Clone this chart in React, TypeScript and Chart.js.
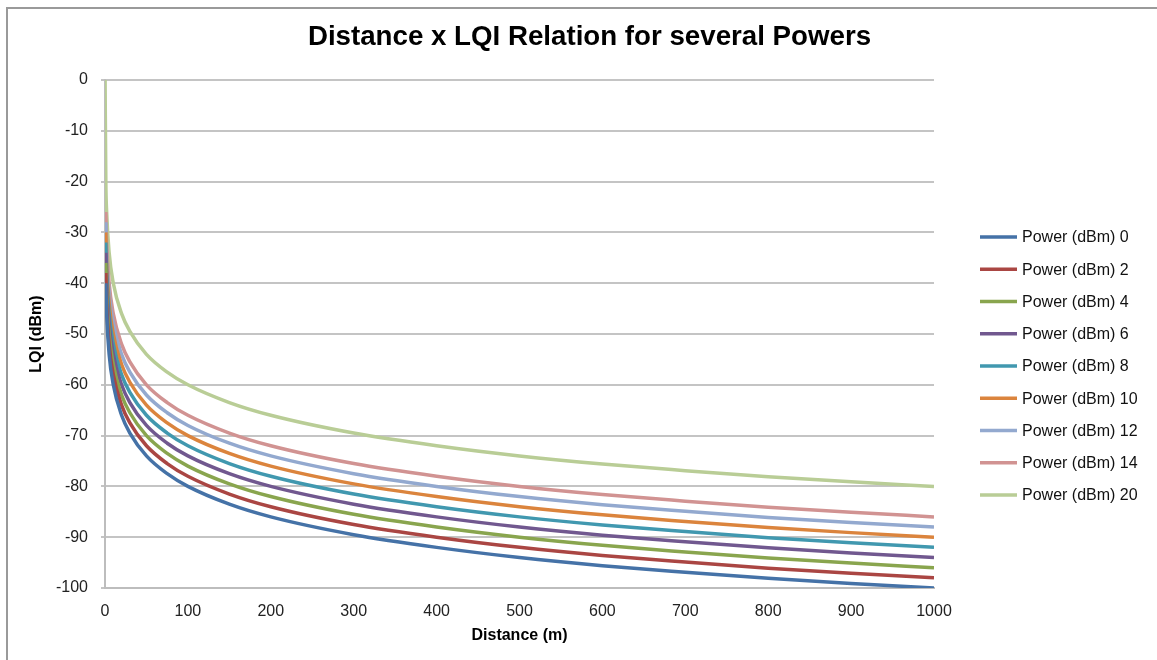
import React, { useEffect, useRef } from "react";
import { Chart, registerables } from "chart.js";

Chart.register(...registerables);

const TITLE = "Distance x LQI Relation for several Powers";
const X_TITLE = "Distance (m)";
const Y_TITLE = "LQI (dBm)";

// distances (m) at which the curves were read
const DISTANCES = [1, 2, 5, 10, 20, 30, 50, 75, 100, 150, 200, 300, 400, 500, 600, 700, 800, 900, 1000];
const DISTANCES_P20 = [0.1, 1, 2, 5, 10, 20, 30, 50, 75, 100, 150, 200, 300, 400, 500, 600, 700, 800, 900, 1000];

const SERIES_LABELS = [
  "Power (dBm) 0",
  "Power (dBm) 2",
  "Power (dBm) 4",
  "Power (dBm) 6",
  "Power (dBm) 8",
  "Power (dBm) 10",
  "Power (dBm) 12",
  "Power (dBm) 14",
  "Power (dBm) 20",
];

const P0 = [-40, -46, -54, -60, -66, -69.5, -74, -77.5, -80, -83.5, -86, -89.5, -92, -94, -95.6, -96.9, -98.1, -99.1, -100];
const P2 = [-38, -44, -52, -58, -64, -67.5, -72, -75.5, -78, -81.5, -84, -87.5, -90, -92, -93.6, -94.9, -96.1, -97.1, -98];
const P4 = [-36, -42, -50, -56, -62, -65.5, -70, -73.5, -76, -79.5, -82, -85.5, -88, -90, -91.6, -92.9, -94.1, -95.1, -96];
const P6 = [-34, -40, -48, -54, -60, -63.5, -68, -71.5, -74, -77.5, -80, -83.5, -86, -88, -89.6, -90.9, -92.1, -93.1, -94];
const P8 = [-32, -38, -46, -52, -58, -61.5, -66, -69.5, -72, -75.5, -78, -81.5, -84, -86, -87.6, -88.9, -90.1, -91.1, -92];
const P10 = [-30, -36, -44, -50, -56, -59.5, -64, -67.5, -70, -73.5, -76, -79.5, -82, -84, -85.6, -86.9, -88.1, -89.1, -90];
const P12 = [-28, -34, -42, -48, -54, -57.5, -62, -65.5, -68, -71.5, -74, -77.5, -80, -82, -83.6, -84.9, -86.1, -87.1, -88];
const P14 = [-26, -32, -40, -46, -52, -55.5, -60, -63.5, -66, -69.5, -72, -75.5, -78, -80, -81.6, -82.9, -84.1, -85.1, -86];
const P20 = [0, -20, -26, -34, -40, -46, -49.5, -54, -57.5, -60, -63.5, -66, -69.5, -72, -74, -75.6, -76.9, -78.1, -79.1, -80];

const COLORS = ["#4572A7", "#AA4643", "#89A54E", "#71588F", "#4198AF", "#DB843D", "#93A9CF", "#D19392", "#B9CD96"];

const X_MIN = 0;
const X_MAX = 1000;
const X_STEP = 100;
const Y_MIN = -100;
const Y_MAX = 0;
const Y_STEP = 10;

const FONT = '"Liberation Sans", Arial, sans-serif';

const decorPlugin = {
  id: "decor",
  afterDraw(chart: any) {
    const ctx = chart.ctx as CanvasRenderingContext2D;
    ctx.save();
    ctx.fillStyle = "#000";
    ctx.font = `bold 27.7px ${FONT}`;
    ctx.textAlign = "center";
    ctx.textBaseline = "middle";
    ctx.fillText(TITLE, 589.5, 37);
    chart.data.datasets.forEach((ds: any, i: number) => {
      const y = 237 + i * 32.25;
      ctx.strokeStyle = ds.borderColor;
      ctx.lineWidth = 3.5;
      ctx.lineCap = "butt";
      ctx.beginPath();
      ctx.moveTo(980, y);
      ctx.lineTo(1017, y);
      ctx.stroke();
      ctx.fillStyle = "#111";
      ctx.font = `16px ${FONT}`;
      ctx.textAlign = "left";
      ctx.textBaseline = "middle";
      ctx.fillText(ds.label, 1022, y + 1);
    });
    ctx.restore();
  },
};

export default function App() {
  const ref = useRef<HTMLCanvasElement | null>(null);

  useEffect(() => {
    if (!ref.current) return;
    const seriesValues = [P0, P2, P4, P6, P8, P10, P12, P14, P20];
    const datasets = seriesValues.map((vals, i) => {
      const xs = vals.length === DISTANCES_P20.length ? DISTANCES_P20 : DISTANCES;
      return {
        label: SERIES_LABELS[i],
        data: vals.map((v, j) => ({ x: xs[j], y: v })),
        borderColor: COLORS[i],
        backgroundColor: COLORS[i],
        borderWidth: 3.5,
        pointRadius: 0,
        showLine: true,
        cubicInterpolationMode: "monotone" as const,
        fill: false,
      };
    });

    const chart = new Chart(ref.current, {
      type: "scatter",
      data: { datasets },
      plugins: [decorPlugin],
      options: {
        animation: false,
        responsive: false,
        devicePixelRatio: 1,
        layout: { padding: { top: 80, left: 0, right: 223, bottom: 0 } },
        plugins: {
          legend: { display: false },
          title: { display: false },
          tooltip: { enabled: false },
        },
        scales: {
          x: {
            type: "linear",
            min: X_MIN,
            max: X_MAX,
            afterFit: (s: any) => {
              s.height = 72;
            },
            ticks: {
              stepSize: X_STEP,
              padding: 14,
              color: "#222",
              font: { family: FONT, size: 16 },
              maxRotation: 0,
              callback: (v: any) => String(v),
            },
            grid: { display: false, drawTicks: false },
            border: { display: true, color: "#bdbdbd", width: 2 },
            title: {
              display: true,
              text: X_TITLE,
              color: "#000",
              font: { family: FONT, size: 16, weight: "bold" },
              padding: { top: 0, bottom: 14.4 },
            },
          },
          y: {
            type: "linear",
            min: Y_MIN,
            max: Y_MAX,
            afterFit: (s: any) => {
              s.width = 105;
            },
            ticks: {
              stepSize: Y_STEP,
              padding: 13,
              color: "#222",
              font: { family: FONT, size: 16 },
              callback: (v: any) => String(v),
            },
            grid: { color: "#c4c4c4", lineWidth: 2, tickLength: 4, drawTicks: true },
            border: { display: true, color: "#bdbdbd", width: 2 },
            title: {
              display: true,
              text: Y_TITLE,
              color: "#000",
              font: { family: FONT, size: 16, weight: "bold" },
              padding: { top: 27.4, bottom: 0 },
            },
          },
        },
      },
    });
    return () => chart.destroy();
  }, []);

  return (
    <div
      style={{
        position: "fixed",
        left: 0,
        top: 0,
        width: 1157,
        height: 660,
        overflow: "hidden",
        background: "#fff",
      }}
    >
      <div
        style={{
          position: "absolute",
          left: 6,
          top: 7,
          width: 2000,
          height: 2000,
          borderTop: "2px solid #9a9a9a",
          borderLeft: "2px solid #9a9a9a",
        }}
      />
      <canvas ref={ref} width={1157} height={660} style={{ position: "absolute", left: 0, top: 0 }} />
    </div>
  );
}
